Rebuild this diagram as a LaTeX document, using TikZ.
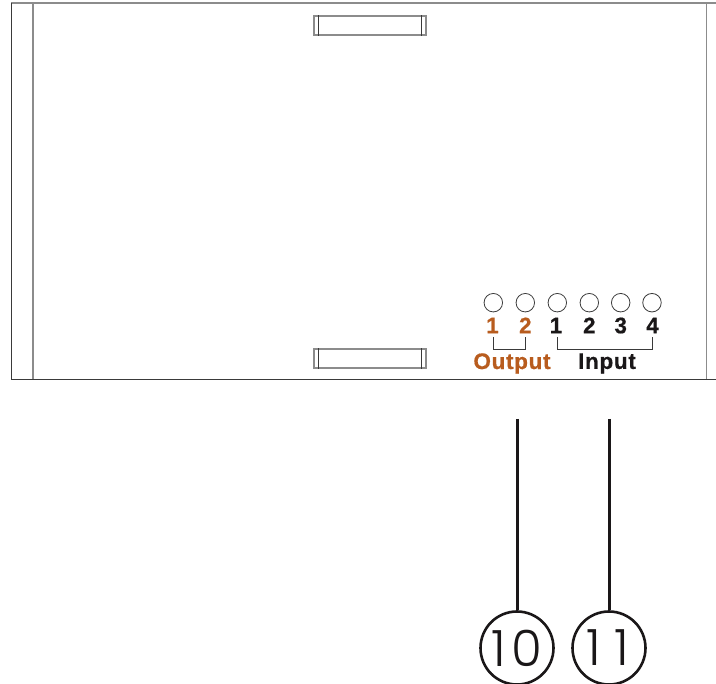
\documentclass[tikz,border=0pt]{standalone}
\usepackage{fontspec}
\setmainfont{Liberation Sans}
\newfontfamily\lblfont[LetterSpace=3,FakeBold=0.7]{Liberation Sans Bold}
\newfontfamily\numfont[LetterSpace=26]{Poppins Light}
\newfontfamily\numfontb[LetterSpace=10]{Poppins Light}
\definecolor{orng}{HTML}{B85C1E}
\definecolor{ink}{HTML}{1A1718}
\definecolor{frameg}{HTML}{3A3A3A}
\definecolor{lightg}{HTML}{8C8C8C}
\tikzset{
  x=1pt,y=-1pt,
  frameline/.style={draw=frameg,line width=1pt},
  greyline/.style={draw=lightg,line width=1.8pt},
  slotbox/.style={draw=lightg,line width=1.3pt,rectangle,minimum width=112pt,minimum height=19pt,inner sep=0pt},
  slotbar/.style={draw=frameg,line width=1pt},
  led/.style={circle,draw=frameg,line width=.8pt,minimum size=18.5pt,inner sep=0pt},
  dig/.style={font=\fontsize{22.5}{22.5}\selectfont\lblfont,inner sep=0pt,anchor=center},
  outdig/.style={dig,text=orng},
  indig/.style={dig,text=ink},
  brk/.style={draw=frameg,line width=.8pt},
  callout/.style={circle,draw=ink,line width=2.6pt,minimum size=73pt,inner sep=0pt,text=ink},
  calltext/.style={font=\fontsize{50}{50}\selectfont\numfont,text=ink,inner sep=0pt},
  calltextb/.style={font=\fontsize{50}{50}\selectfont\numfontb,text=ink,inner sep=0pt},
  lead/.style={draw=ink,line width=3pt},
}
\begin{document}
\begin{tikzpicture}
\useasboundingbox (0,0) rectangle (716,684);
% frame
\draw[greyline] (33,3) -- (33,380);
\draw[greyline] (706.5,3) -- (706.5,380);
\draw[draw=lightg,line width=1.4pt] (11,3) -- (716,3);
\draw[frameline] (11,3) -- (11,380) -- (716,380);
% slots
\node[slotbox] (slottop) at (370,25.5) {};
\node[slotbox] (slotbot) at (370,358.5) {};
\foreach \s in {slottop,slotbot}{
  \draw[slotbar] ([xshift=5.5pt]\s.north west) -- ([xshift=5.5pt]\s.south west);
  \draw[slotbar] ([xshift=-5.5pt]\s.north east) -- ([xshift=-5.5pt]\s.south east);
}
% LEDs
\node[led] (l1) at (493.3,302.7) {};
\node[led] (l2) at (525.3,302.7) {};
\node[led] (l3) at (557.3,302.7) {};
\node[led] (l4) at (589.3,302.7) {};
\node[led] (l5) at (620.7,302.7) {};
\node[led] (l6) at (652,302.7) {};
% digits
\node[outdig] (d1) at (492.5,325.5) {1};
\node[outdig] (d2) at (525.3,325.5) {2};
\node[indig] (d3) at (556,325.5) {1};
\node[indig] (d4) at (589.3,325.5) {2};
\node[indig] (d5) at (620.7,325.5) {3};
\node[indig] (d6) at (652.5,325.5) {4};
% brackets
\coordinate (b1) at (493.8,337);
\coordinate (b2) at (525.3,337);
\coordinate (b3) at (557.3,337);
\coordinate (b4) at (652,337);
\coordinate (bo) at (509.5,349.5);
\coordinate (bi) at (604.5,349.5);
\draw[brk] (b1) |- (bo) -| (b2);
\draw[brk] (b3) |- (bi) -| (b4);
% titles
\node[outdig] (outlbl) at (512,363.5) {Output};
\node[indig] (inlbl) at (607,363.5) {Input};
% callouts
\node[callout] (c10) at (517,648) {};
\node[callout] (c11) at (609,648) {};
\node[calltextb] (n10) at (517,648) {10};
\node[calltext] (n11) at (608,648) {11};
\coordinate (t10) at (517,419);
\coordinate (t11) at (609,419);
\draw[lead] (t10) -- (c10);
\draw[lead] (t11) -- (c11);
\end{tikzpicture}
\end{document}
